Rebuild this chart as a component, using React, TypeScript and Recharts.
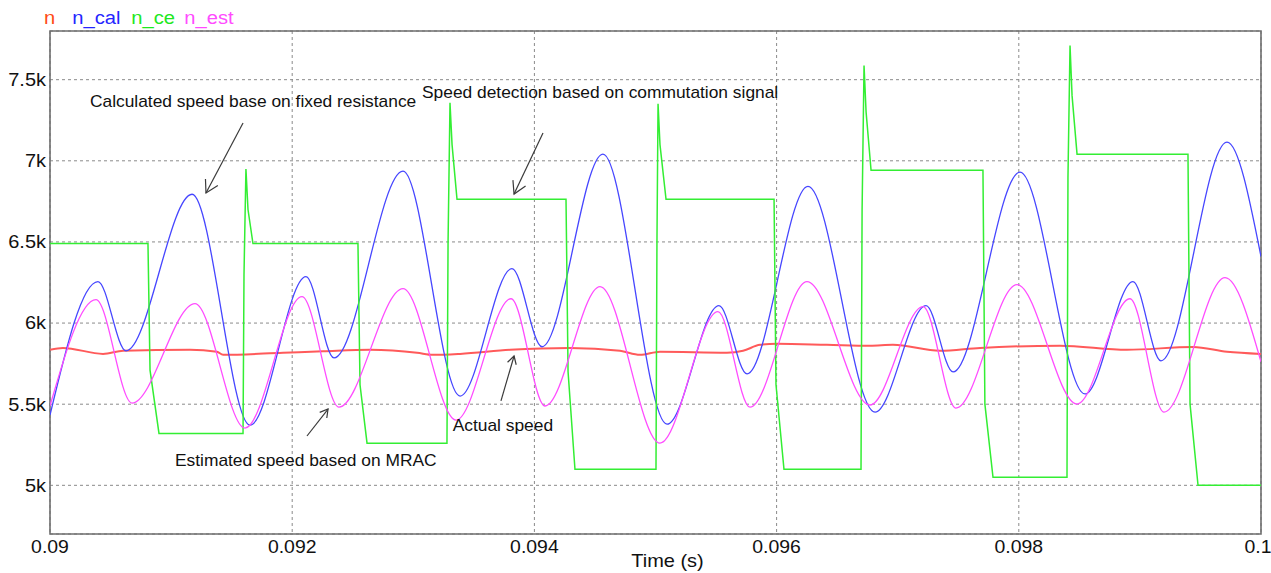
import React from 'react';
import {
  LineChart,
  Line,
  XAxis,
  YAxis,
  CartesianGrid,
  ReferenceArea,
  ReferenceLine,
  ReferenceDot,
  Legend,
  Label,
} from 'recharts';

// ---------- series names & colours ----------
const seriesNames = ['n', 'n_cal', 'n_ce', 'n_est'];
const legendColors = ['#ff4a14', '#2626ff', '#1ee81e', '#ff4cff'];
const lineColors = ['#ff5a5a', '#4646ff', '#33ee33', '#ff4cff'];

// ---------- ticks ----------
const xTicks = [0.09, 0.092, 0.094, 0.096, 0.098, 0.1];
const xTickLabels = ['0.09', '0.092', '0.094', '0.096', '0.098', '0.1'];
const yTicks = [5000, 5500, 6000, 6500, 7000, 7500];
const yTickLabels = ['5k', '5.5k', '6k', '6.5k', '7k', '7.5k'];
const xLabel = 'Time (s)';

// ---------- data: [time (s), speed] ----------
const nPoints: [number, number][] = [
  [0.09, 5835], [0.090107, 5847], [0.090438, 5810], [0.090603, 5829], [0.091156, 5835],
  [0.091379, 5823], [0.091429, 5804], [0.091924, 5817], [0.092254, 5826], [0.092642, 5835],
  [0.093031, 5817], [0.093163, 5804], [0.093386, 5810], [0.093799, 5835], [0.094294, 5847],
  [0.094707, 5829], [0.094872, 5804], [0.095037, 5823], [0.09559, 5817], [0.095723, 5829],
  [0.095863, 5866], [0.096003, 5872], [0.096416, 5866], [0.096771, 5860], [0.096961, 5866],
  [0.097349, 5829], [0.09768, 5847], [0.09834, 5860], [0.098893, 5835], [0.099439, 5853],
  [0.099719, 5823], [0.1, 5810],
];

const nCalPoints: [number, number][] = [
  [0.09, 5433], [0.090396, 6256], [0.090628, 5829], [0.091173, 6794], [0.091652, 5371],
  [0.092114, 6286], [0.092345, 5785], [0.092915, 6936], [0.093386, 5550], [0.093815, 6336],
  [0.094063, 5854], [0.094566, 7041], [0.095095, 5377], [0.095524, 6107], [0.095756, 5687],
  [0.096259, 6843], [0.096813, 5451], [0.097234, 6107], [0.097457, 5699], [0.09801, 6930],
  [0.098547, 5563], [0.098943, 6256], [0.099174, 5767], [0.099719, 7115], [0.1, 6410],
];

const nCePoints: [number, number][] = [
  [0.09, 6490], [0.090809, 6490], [0.090826, 5710], [0.0909, 5320],
  [0.091594, 5320], [0.091602, 6300], [0.091618, 6950], [0.091635, 6700], [0.091676, 6490],
  [0.092543, 6490], [0.09256, 5620], [0.092618, 5260],
  [0.093278, 5260], [0.093287, 6500], [0.093303, 7357], [0.09332, 7100], [0.093361, 6763],
  [0.094261, 6763], [0.094278, 5700], [0.094335, 5099],
  [0.095004, 5099], [0.095012, 6500], [0.095021, 7351], [0.095037, 7100], [0.095087, 6763],
  [0.095979, 6763], [0.095995, 5620], [0.096061, 5099],
  [0.096697, 5099], [0.096706, 6700], [0.096722, 7587], [0.096739, 7300], [0.09678, 6942],
  [0.097704, 6942], [0.09772, 5500], [0.097787, 5050],
  [0.098398, 5050], [0.098406, 6900], [0.098423, 7710], [0.09844, 7400], [0.098481, 7041],
  [0.099397, 7041], [0.099414, 5500], [0.09948, 5000],
  [0.1, 5000],
];

const nEstPoints: [number, number][] = [
  [0.09, 5490], [0.09038, 6144], [0.090677, 5507], [0.091197, 6120], [0.09161, 5353],
  [0.092081, 6163], [0.092386, 5482], [0.092915, 6212], [0.093353, 5402], [0.093807, 6150],
  [0.094088, 5489], [0.094542, 6225], [0.095037, 5260], [0.095516, 6070], [0.09578, 5482],
  [0.096251, 6256], [0.096771, 5495], [0.097209, 6101], [0.097481, 5476], [0.097985, 6237],
  [0.098481, 5501], [0.098918, 6150], [0.099199, 5451], [0.099703, 6280], [0.1, 5761],
];

// ---------- annotations ----------
const noteTexts = [
  'Calculated speed base on fixed resistance',
  'Speed detection based on commutation signal',
  'Estimated speed based on MRAC',
  'Actual speed',
];
const noteAnchors: [number, number][] = [
  [0.09033, 7332],
  [0.093072, 7384],
  [0.091032, 5119],
  [0.093325, 5337],
];
const arrowFrom: [number, number][] = [
  [0.091594, 7233],
  [0.094071, 7171],
  [0.092122, 5304],
  [0.093724, 5520],
];
const arrowTo: [number, number][] = [
  [0.091288, 6802],
  [0.093832, 6795],
  [0.092296, 5470],
  [0.093832, 5797],
];
const arrowHeadSizes = [14, 14, 9, 9];

const toRows = (pts: [number, number][]) => pts.map(([t, v]) => ({ t, v }));
const seriesData = [toRows(nPoints), toRows(nCalPoints), toRows(nCePoints), toRows(nEstPoints)];
const seriesCurve: ('monotone' | 'linear')[] = ['monotone', 'monotone', 'linear', 'monotone'];
const seriesWidth = [2, 1.3, 1.5, 1.3];

const FONT = '"Liberation Sans", Arial, Helvetica, sans-serif';
const SX = 1.11;

const XTick = (props: any) => {
  const { x, y, payload } = props;
  const idx = xTicks.findIndex((v) => Math.abs(v - payload.value) < 1e-9);
  const label = idx >= 0 ? xTickLabels[idx] : String(payload.value);
  const shift = idx === xTicks.length - 1 ? -3 : 0;
  return (
    <text
      transform={`translate(${x + shift},${y}) scale(${SX},1)`}
      textAnchor="middle"
      dy="0.71em"
      fontSize={17.5}
      fontFamily={FONT}
      fill="#111"
    >
      {label}
    </text>
  );
};

const YTick = (props: any) => {
  const { x, y, payload } = props;
  const idx = yTicks.indexOf(payload.value);
  const label = idx >= 0 ? yTickLabels[idx] : String(payload.value);
  return (
    <text
      transform={`translate(${x},${y}) scale(${SX},1)`}
      textAnchor="end"
      dy="0.355em"
      fontSize={18}
      fontFamily={FONT}
      fill="#111"
    >
      {label}
    </text>
  );
};

const makeArrow = (size: number) => (p: any) => {
  const { x1, y1, x2, y2 } = p;
  const dx = x1 - x2;
  const dy = y1 - y2;
  const len = Math.sqrt(dx * dx + dy * dy) || 1;
  const ux = dx / len;
  const uy = dy / len;
  const a = (30 * Math.PI) / 180;
  const c = Math.cos(a);
  const s = Math.sin(a);
  const b1x = x2 + size * (ux * c - uy * s);
  const b1y = y2 + size * (ux * s + uy * c);
  const b2x = x2 + size * (ux * c + uy * s);
  const b2y = y2 + size * (-ux * s + uy * c);
  return (
    <g>
      <line x1={x1} y1={y1} x2={x2} y2={y2} stroke="#3a3a3a" strokeWidth={1.2} />
      <path
        d={`M${b1x},${b1y} L${x2},${y2} L${b2x},${b2y}`}
        fill="none"
        stroke="#3a3a3a"
        strokeWidth={1.2}
      />
    </g>
  );
};

const makeNote = (text: string) => (p: any) => (
  <text
    transform={`translate(${p.cx},${p.cy}) scale(1.1,1)`}
    fontSize={15.8}
    fontFamily={FONT}
    fill="#111"
  >
    {text}
  </text>
);

const legendGaps = [15.3, 9.6, 8.3, 0];

const LegendContent = () => (
  <div
    style={{
      display: 'flex',
      fontFamily: FONT,
      fontSize: 18,
      lineHeight: '20px',
      transform: `scaleX(1.12)`,
      transformOrigin: 'left top',
      whiteSpace: 'nowrap',
    }}
  >
    {seriesNames.map((name, i) => (
      <span key={name} style={{ color: legendColors[i], marginRight: legendGaps[i] }}>
        {name}
      </span>
    ))}
  </div>
);

const TimeLabel = (p: any) => {
  const vb = p.viewBox || {};
  const cx = vb.x + vb.width / 2 + 12;
  const y = vb.y + 33;
  return (
    <text
      transform={`translate(${cx},${y}) scale(${SX},1)`}
      textAnchor="middle"
      fontSize={18}
      fontFamily={FONT}
      fill="#111"
    >
      {xLabel}
    </text>
  );
};

export default function App() {
  return (
    <div style={{ position: 'absolute', left: 0, top: 0, width: 1271, height: 573, background: '#fff' }}>
      <LineChart width={1271} height={573} margin={{ top: 31, right: 10, bottom: 0, left: 0 }}>
        <CartesianGrid stroke="#8a8a8a" strokeDasharray="3 3" strokeWidth={1} />
        <XAxis
          dataKey="t"
          type="number"
          domain={[0.09, 0.1]}
          ticks={xTicks}
          allowDataOverflow
          axisLine={false}
          tickLine={false}
          tickSize={0}
          tickMargin={7}
          height={39}
          interval={0}
          tick={<XTick />}
        >
          <Label content={<TimeLabel />} />
        </XAxis>
        <YAxis
          type="number"
          domain={[4700, 7800]}
          ticks={yTicks}
          allowDataOverflow
          axisLine={false}
          tickLine={false}
          tickSize={0}
          tickMargin={4}
          width={50}
          interval={0}
          tick={<YTick />}
        />
        <Legend
          verticalAlign="middle"
          align="center"
          wrapperStyle={{ top: 8, left: 44, width: 'auto', height: 'auto' }}
          content={<LegendContent />}
        />
        {seriesNames.map((name, i) => (
          <Line
            key={name}
            name={name}
            data={seriesData[i]}
            dataKey="v"
            type={seriesCurve[i]}
            stroke={lineColors[i]}
            strokeWidth={seriesWidth[i]}
            dot={false}
            activeDot={false}
            isAnimationActive={false}
          />
        ))}
        {arrowFrom.map((f, i) => (
          <ReferenceLine
            key={'arrow' + i}
            segment={[
              { x: f[0], y: f[1] },
              { x: arrowTo[i][0], y: arrowTo[i][1] },
            ]}
            ifOverflow="visible"
            shape={makeArrow(arrowHeadSizes[i])}
          />
        ))}
        {noteAnchors.map((a, i) => (
          <ReferenceDot
            key={'note' + i}
            x={a[0]}
            y={a[1]}
            r={0}
            ifOverflow="visible"
            shape={makeNote(noteTexts[i])}
          />
        ))}
        <ReferenceArea
          x1={0.09}
          x2={0.1}
          y1={4700}
          y2={7800}
          fill="none"
          fillOpacity={0}
          stroke="#6e6e6e"
          strokeWidth={1.6}
          ifOverflow="visible"
        />
      </LineChart>
    </div>
  );
}
